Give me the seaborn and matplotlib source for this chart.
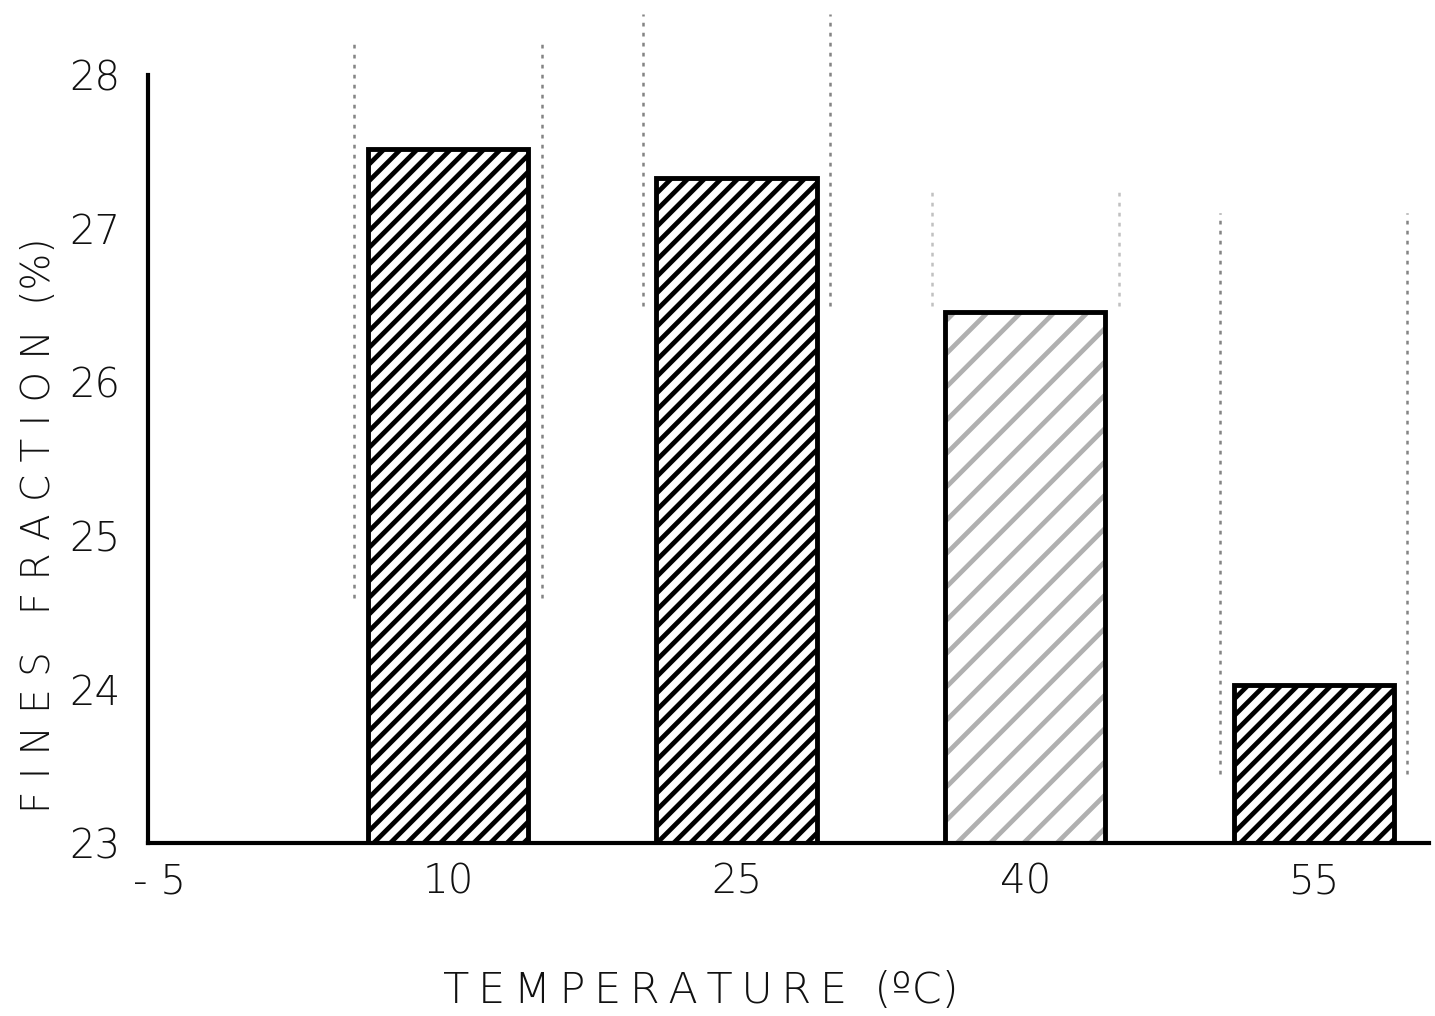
import matplotlib
matplotlib.use("Agg")
import matplotlib.pyplot as plt
from matplotlib.patches import Rectangle
import seaborn as sns
import pandas as pd
import numpy as np

# Data
temperatures = [10, 25, 40, 55]
fines_fraction = [27.52, 27.33, 26.46, 24.03]
range_low = [24.6, 26.5, 26.5, 23.45]
range_high = [28.2, 28.4, 27.25, 27.1]
x_ticks = [-5, 10, 25, 40, 55]
x_tick_labels = ["- 5", "10", "25", "40", "55"]
y_ticks = [23, 24, 25, 26, 27, 28]

sns.set_theme(style="white")
plt.rcParams['font.family'] = ['DejaVu Sans']
plt.rcParams['hatch.linewidth'] = 3.4

df = pd.DataFrame({"temp": temperatures, "fines": fines_fraction})

fig = plt.figure(figsize=(14.35, 10.16), dpi=100)
ax = fig.add_axes([0.103, 0.170, 0.893, 0.824])

sns.barplot(data=df, x="temp", y="fines", native_scale=True, width=0.555,
            color="white", edgecolor="black", linewidth=3.5, ax=ax, errorbar=None)

bars = list(ax.patches)
for i, p in enumerate(bars):
    y0 = 23
    p.set_y(y0)
    p.set_height(fines_fraction[i] - y0)
    p.set_hatch('//')
    p.set_facecolor('white')
    if i == 2:
        # lighter, sparser hatch: hatch takes edge colour, so draw outline separately
        p.set_hatch('/')
        p.set_edgecolor('#b0b0b0')
        p.set_linewidth(0)
        bb = p.get_bbox()
        ax.add_patch(Rectangle((bb.x0, bb.y0), bb.width, bb.height, fill=False,
                               edgecolor='black', linewidth=3.5, zorder=p.get_zorder() + 0.1))
    x0 = p.get_x()
    w = p.get_width()
    ax.vlines([x0 - 0.7, x0 + w + 0.7], range_low[i], range_high[i],
              colors='#777777', linestyles=(0, (1.5, 2.5)), linewidth=1.8,
              alpha=0.45 if i == 2 else 0.9, zorder=1)

ax.set_xlim(-5.6, 61)
ax.set_ylim(23, 28.45)
ax.set_xticks(x_ticks)
ax.set_xticklabels(x_tick_labels)
ax.set_yticks(y_ticks)
ax.tick_params(axis='both', which='major', labelsize=29, length=8, width=2.5,
               direction='out', color='black', labelcolor='#111111')
ax.tick_params(axis='x', pad=6)
ax.tick_params(axis='y', pad=12)
for lbl in ax.get_xticklabels() + ax.get_yticklabels():
    lbl.set_fontweight('light')

for s in ['top', 'right']:
    ax.spines[s].set_visible(False)
ax.spines['left'].set_bounds(23, 28)
ax.spines['left'].set_linewidth(3)
ax.spines['bottom'].set_linewidth(3)
ax.spines['left'].set_color('black')
ax.spines['bottom'].set_color('black')
ax.set_xlabel("")
ax.set_ylabel("")

xlabel = "\u2009".join("TEMPERATURE") + "  (ºC)"
fig.text(0.488, 0.025, xlabel, ha='center', va='center',
         fontsize=31, color='#111111', fontweight='light')
fig.text(0.027, 0.483, "F I N E S   F R A C T I O N  (%)", rotation=90,
         ha='center', va='center', fontsize=28, color='#111111', fontweight='light')

fig.savefig("out.png", dpi=100, facecolor='white')
